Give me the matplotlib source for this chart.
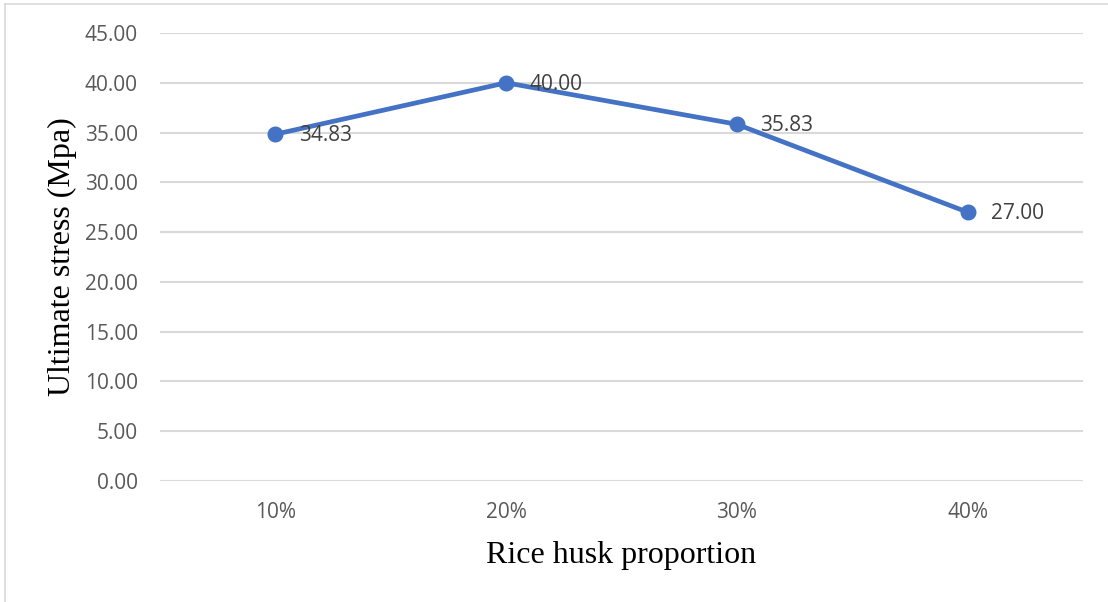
import matplotlib.pyplot as plt
from matplotlib.lines import Line2D

proportions = ['10%', '20%', '30%', '40%']
stress = [34.83, 40.00, 35.83, 27.00]
yticks = [0, 5, 10, 15, 20, 25, 30, 35, 40, 45]

fig = plt.figure(figsize=(11.08, 6.02), dpi=100)
ax = fig.add_axes([160 / 1108, 1 - 481 / 602, 923 / 1108, 448 / 602])

x = range(len(stress))
ax.plot(x, stress, color='#4472C4', lw=3.4, marker='o', ms=10.5,
        solid_capstyle='round', zorder=3)
for xi, v in zip(x, stress):
    ax.annotate('%.2f' % v, (xi, v), xytext=(17, -1), textcoords='offset points',
                ha='left', va='center', fontsize=15, color='#404040',
                family='Open Sans')

ax.set_xlim(-0.5, len(stress) - 0.5)
ax.set_ylim(0, 45)
ax.set_yticks(yticks)
ax.set_yticklabels(['%.2f' % t for t in yticks])
ax.set_xticks(list(x))
ax.set_xticklabels(proportions)
ax.tick_params(length=0, labelsize=15, labelcolor='#595959')
ax.tick_params(axis='y', pad=16)
ax.tick_params(axis='x', pad=15)
for lab in ax.get_xticklabels() + ax.get_yticklabels():
    lab.set_family('Open Sans')
ax.grid(axis='y', color='#D9D9D9', lw=1.5)
ax.set_axisbelow(True)
for s in ax.spines.values():
    s.set_visible(False)

ax.set_xlabel('Rice husk proportion', family='Liberation Serif', fontsize=23,
              color='black', va='center')
ax.set_ylabel('Ultimate stress (Mpa)', family='Liberation Serif', fontsize=23,
              color='black', va='center')
ax.xaxis.set_label_coords(0.5, (481 - 556) / 448)
ax.yaxis.set_label_coords((62 - 160) / 923, 0.5)

# chart area border (left and top edges)
fig.add_artist(Line2D([5 / 1108, 5 / 1108], [0, 1 - 4 / 602], color='#D9D9D9', lw=1.2))
fig.add_artist(Line2D([5 / 1108, 1], [1 - 4 / 602, 1 - 4 / 602], color='#D9D9D9', lw=1.2))

fig.savefig('out.png', dpi=100)
